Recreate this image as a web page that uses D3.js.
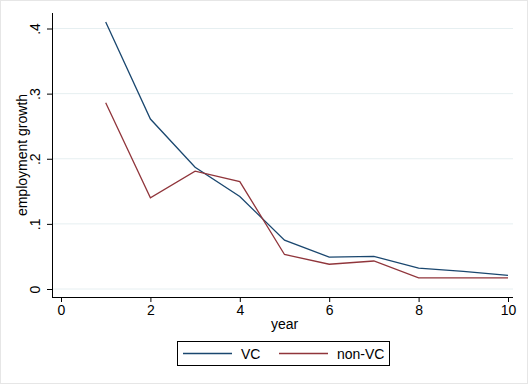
<!DOCTYPE html>
<html>
<head>
<meta charset="utf-8">
<script src="https://cdn.jsdelivr.net/npm/d3@7"></script>
<style>
  body { margin: 0; background: #fff; }
  text { font-family: "Liberation Sans", Arial, sans-serif; fill: #000; }
</style>
</head>
<body>
<div id="chart"></div>
<script>
// data
var years = [1, 2, 3, 4, 5, 6, 7, 8, 9, 10];
var vc = [0.410, 0.261, 0.187, 0.142, 0.075, 0.049, 0.050, 0.032, 0.027, 0.021];
var nonVc = [0.286, 0.140, 0.181, 0.165, 0.053, 0.038, 0.043, 0.017, 0.017, 0.017];
var xTicks = [0, 2, 4, 6, 8, 10];
var yTicks = [0, 0.1, 0.2, 0.3, 0.4];
var yTickLabels = ["0", ".1", ".2", ".3", ".4"];
var seriesNames = ["VC", "non-VC"];
var colors = ["#1a476f", "#90353b"];

var W = 528, H = 384;
var svg = d3.select("#chart").append("svg").attr("width", W).attr("height", H);

// outer frame
svg.append("rect").attr("x", 0.5).attr("y", 0.5).attr("width", W - 1).attr("height", H - 1)
  .style("fill", "#fff").style("stroke", "#e6e6e6");

var pLeft = 52, pRight = 513, pTop = 13, pBottom = 297;
var x = d3.scaleLinear().domain([0, 10]).range([61, 508]);
var y = d3.scaleLinear().domain([0, 0.4]).range([289, 28.5]);

// gridlines
svg.selectAll(".grid").data(yTicks).enter().append("line")
  .attr("x1", pLeft).attr("x2", pRight)
  .attr("y1", function(d){ return y(d); }).attr("y2", function(d){ return y(d); })
  .style("stroke", "#e6eff1").style("stroke-width", 1);

// lines
var line = d3.line().x(function(d){ return x(d[0]); }).y(function(d){ return y(d[1]); });
[vc, nonVc].forEach(function(s, i){
  svg.append("path").datum(years.map(function(yr, j){ return [yr, s[j]]; }))
    .attr("d", line).style("fill", "none").style("stroke", colors[i]).style("stroke-width", 1.3);
});

// axes
var xAxis = d3.axisBottom(x).tickValues(xTicks).tickSize(5).tickPadding(3);
var gx = svg.append("g").attr("transform", "translate(0," + pBottom + ")").call(xAxis);
gx.select(".domain").attr("d", "M" + pLeft + ",0.5H" + pRight);
gx.selectAll("text").style("font-size", "14px").style("font-family", "Liberation Sans, Arial, sans-serif");

var yAxis = d3.axisLeft(y).tickValues(yTicks).tickSize(5).tickFormat(function(d, i){ return yTickLabels[i]; });
var gy = svg.append("g").attr("transform", "translate(" + pLeft + ",0)").call(yAxis);
gy.select(".domain").attr("d", "M0.5," + pTop + "V" + pBottom);
gy.selectAll(".tick text")
  .attr("x", null).attr("dy", null)
  .attr("transform", "translate(-12,0) rotate(-90)")
  .style("text-anchor", "middle")
  .style("font-size", "14px").style("font-family", "Liberation Sans, Arial, sans-serif");
svg.selectAll(".domain, .tick line").style("stroke", "#000");

// axis titles
svg.append("text").attr("x", (pLeft + pRight) / 2 + 2).attr("y", 329)
  .attr("text-anchor", "middle").style("font-size", "14px").text("year");
svg.append("text").attr("transform", "translate(27," + ((pTop + pBottom) / 2) + ") rotate(-90)")
  .attr("text-anchor", "middle").style("font-size", "14px").text("employment growth");

// legend
var lg = svg.append("g");
lg.append("rect").attr("x", 177.5).attr("y", 341.5).attr("width", 212).attr("height", 24)
  .style("fill", "#fff").style("stroke", "#000");
var lx = [183, 279];
seriesNames.forEach(function(n, i){
  lg.append("line").attr("x1", lx[i]).attr("x2", lx[i] + 49).attr("y1", 353.5).attr("y2", 353.5)
    .style("stroke", colors[i]).style("stroke-width", 1.3);
  lg.append("text").attr("x", lx[i] + 58).attr("y", 358.5).style("font-size", "14px").text(n);
});
</script>
</body>
</html>
